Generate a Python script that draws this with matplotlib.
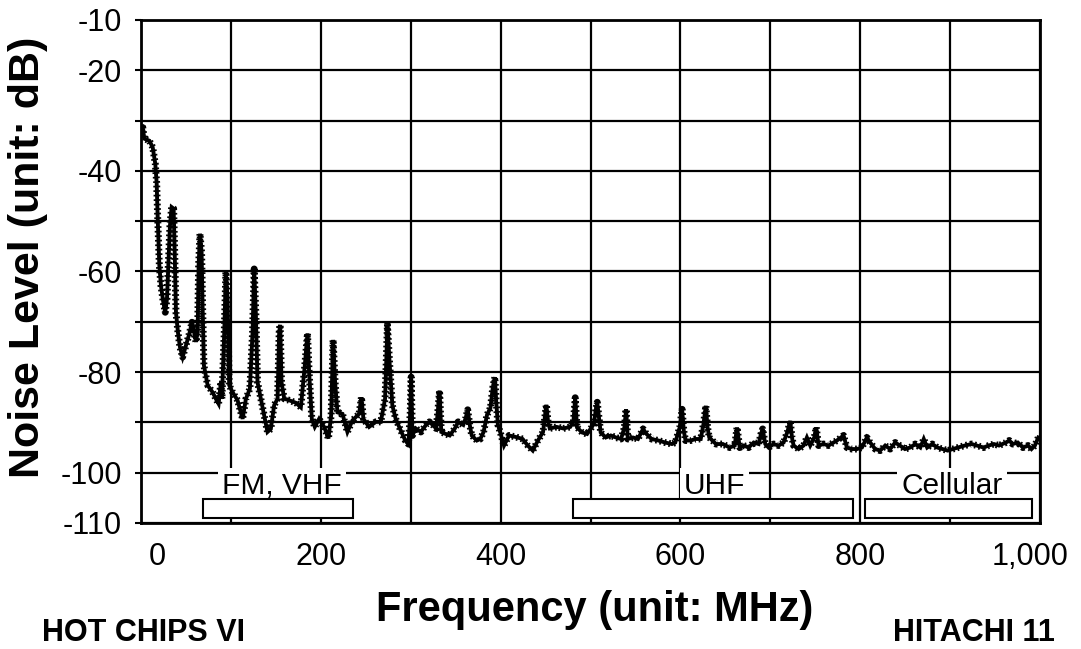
import numpy as np
import matplotlib.pyplot as plt
from matplotlib.patches import Rectangle
from matplotlib.transforms import ScaledTranslation

plt.rcParams['font.family'] = ['Liberation Sans', 'DejaVu Sans']

# noise spectrum (MHz, dB)
freq_mhz = [
    0.5, 1.5, 3.7, 9.3, 13, 15.9, 17.4, 18.5, 20.4, 22.2, 24.8, 27, 28.9, 30.7,
    32.2, 34.1, 36.3, 37.4, 38.9, 41.1, 43.3, 46.3, 50, 53.7, 56.7, 58.5, 61.1,
    63, 64.1, 65.6, 67.4, 68.5, 70, 74.1, 79.6, 84.1, 86.3, 88.9, 90, 92.6,
    94.4, 96.3, 98.1, 101.9, 107.4, 113, 116.7, 121.1, 124.1, 125.9, 127.8,
    129.6, 133.3, 137, 140.7, 144.4, 148.1, 151.9, 153.7, 154.8, 156.3, 159.3,
    164.8, 172.2, 177.8, 182.2, 185.2, 187, 190, 193.3, 198.1, 203.7, 208.5,
    211.5, 213.7, 215.9, 218.5, 224.1, 229.6, 235.2, 242.6, 245.2, 247.4,
    253.7, 261.1, 266.7, 271.5, 274.1, 276.7, 279.6, 283.3, 288.9, 294,
    297.5, 299.5, 300.5, 301.9, 305.7, 311.3, 317, 320.8, 324.5, 328.3,
    330.2, 332.1, 334, 337.7, 343.4, 349.1, 352.8, 358.5, 361.1, 363.4, 365.7,
    367.9, 373.6, 377.4, 381.1, 384.9, 388.7, 391.3, 393.6, 395.1, 397, 400,
    403.8, 409.4, 417, 424.5, 430.2, 435.8, 441.5, 447.2, 449.1, 450.9, 452.8,
    454.7, 462.3, 469.8, 477.4, 481, 483, 485, 490.6, 496.2, 500, 503.8,
    505.7, 507.5, 509.4, 511.3, 517, 522.6, 528.3, 534, 537.7, 539.6, 541.5,
    547.2, 552.8, 558.5, 562.3, 567.9, 575.5, 583, 590.6, 594.3, 599.2, 601.9,
    603.8, 605.7, 611.3, 617, 622.6, 625.7, 628.3, 630.2, 632.1, 639.6, 647.2,
    654.7, 660.4, 663, 666, 670.4, 675.9, 681.5, 687, 689.6, 691.5, 694.4,
    698.1, 703.7, 709.3, 714.8, 719.3, 722.2, 724.1, 725.9, 731.5, 737, 740.7,
    744.4, 748.9, 751.1, 753.7, 759.3, 764.8, 770.4, 774.1, 781.5, 785.2,
    790.7, 796.3, 801.9, 807.4, 811.1, 816.7, 822.2, 827.8, 833.3, 838.9,
    844.1, 849.8, 855.5, 861.2, 866.9, 870.7, 874.5, 880.2, 885.9, 891.6,
    897.3, 903, 908.7, 916.3, 924, 929.7, 937.3, 943, 948.7, 954.4, 962,
    965.8, 969.6, 975.3, 981, 986.7, 990.5, 994.3, 998.1,
]
level_db = [
    -33.0, -30.8, -33.6, -34.0, -35.3, -38.6, -42.3, -48.9, -58.8, -62.8, -66.1,
    -68.1, -65.4, -57.5, -50.9, -47.2, -47.5, -55.5, -68.1, -72.1, -75.0, -77.0,
    -74.7, -72.4, -70.1, -71.4, -74.0, -72.1, -58.8, -52.5, -56.2, -66.8, -78.7,
    -82.6, -84.0, -85.6, -86.3, -82.0, -85.3, -72.1, -60.1, -65.4, -82.6, -84.0,
    -85.6, -89.3, -85.3, -83.3, -72.1, -59.5, -68.7, -82.0, -85.3, -88.6, -91.9,
    -91.3, -86.6, -85.3, -72.1, -70.6, -82.0, -85.3, -85.6, -86.1, -87.0, -78.7,
    -72.3, -80.0, -89.3, -90.9, -89.3, -90.9, -93.2, -88.6, -73.6, -82.0, -88.0,
    -88.3, -91.9, -89.6, -88.3, -85.0, -89.3, -90.9, -89.9, -89.9, -85.3, -70.6,
    -78.7, -86.6, -89.3, -91.6, -93.6, -94.3, -88.0, -81.0, -92.6, -91.2, -91.9,
    -90.5, -89.9, -90.5, -91.2, -87.8, -83.7, -91.9, -92.2, -92.6, -91.2, -89.9,
    -90.5, -89.2, -87.5, -90.5, -92.6, -93.6, -93.3, -91.9, -88.5, -87.1, -83.1,
    -81.0, -85.8, -90.5, -92.2, -94.6, -92.6, -92.9, -93.3, -94.6, -95.6, -93.6,
    -91.9, -89.2, -86.5, -89.9, -91.2, -90.9, -91.2, -90.9, -89.9, -85.1, -91.0,
    -92.0, -92.3, -91.3, -90.3, -87.7, -86.0, -89.0, -92.0, -93.0, -92.6, -93.0,
    -93.3, -91.0, -87.4, -93.3, -93.0, -93.3, -91.3, -92.3, -93.3, -93.6, -94.0,
    -94.3, -94.0, -91.0, -87.4, -91.7, -93.6, -93.6, -93.3, -93.3, -90.3, -86.7,
    -91.0, -93.0, -94.3, -94.3, -95.0, -94.6, -91.0, -95.0, -94.6, -95.0, -94.0,
    -94.3, -92.3, -91.3, -94.3, -95.0, -94.3, -94.6, -94.0, -91.7, -89.7, -93.0,
    -94.6, -95.3, -94.6, -93.0, -94.6, -93.0, -91.0, -94.6, -94.3, -94.6, -94.0,
    -93.6, -92.6, -95.0, -95.3, -95.3, -95.0, -93.0, -94.0, -95.3, -95.6, -94.6,
    -95.3, -94.0, -94.6, -95.3, -95.0, -94.3, -95.0, -93.3, -95.0, -94.3, -95.0,
    -95.3, -95.6, -95.3, -95.0, -94.6, -94.3, -94.6, -95.0, -94.6, -94.3, -94.6,
    -94.0, -93.6, -94.3, -94.0, -95.0, -94.6, -95.3, -94.6, -93.0,
]

# frequency bands: name, start, end (MHz), label centre (MHz)
band_names = ['FM, VHF', 'UHF', 'Cellular']
band_start = [69, 480, 805]
band_end = [236, 792, 991]
band_label_x = [157, 638, 902]

y_ticks = list(range(-110, 0, 10))
y_labelled = [-10, -20, -40, -60, -80, -100, -110]
x_ticks = list(range(0, 1001, 100))
x_labelled = {0: '0', 200: '200', 400: '400', 600: '600', 800: '800', 1000: '1,000'}

W, H = 1081, 649
fig = plt.figure(figsize=(W / 100, H / 100), dpi=100)
ax = fig.add_axes([141 / W, 1 - 523 / H, (1040 - 141) / W, (523 - 20) / H])

ax.set_xlim(0, 1000)
ax.set_ylim(-110, -10)

# the scanned trace: thick line plus short bars along it
ax.plot(freq_mhz, level_db, color='black', lw=2.8, zorder=3, solid_joinstyle='miter')
ax.plot(freq_mhz, level_db, color='black', lw=5.0, linestyle=(0, (0.25, 0.4)),
        dash_capstyle='butt', zorder=3)

# bands: white label boxes break the -100 grid line, outlined bars sit on top
for name, x0, x1, xl in zip(band_names, band_start, band_end, band_label_x):
    ax.text(xl, -104.3, name, ha='center', va='baseline', fontsize=21.5, zorder=5,
            bbox=dict(facecolor='white', edgecolor='none', pad=3))
    ax.add_patch(Rectangle((x0, -109.0), x1 - x0, 3.8, facecolor='white',
                           edgecolor='black', lw=1.5, zorder=6))

# grid and ticks
ax.set_yticks(y_ticks)
ax.set_yticklabels([str(v) if v in y_labelled else '' for v in y_ticks])
ax.set_xticks(x_ticks)
ax.set_xticklabels([x_labelled.get(v, '') for v in x_ticks])
ax.grid(True, which='major', color='black', lw=1.6)
ax.set_axisbelow(True)
ax.tick_params(axis='y', which='major', direction='out', length=4, width=1.5,
               labelsize=22, pad=9.5)
ax.tick_params(axis='x', which='both', length=0, labelsize=22, pad=14)
for sp in ax.spines.values():
    sp.set_linewidth(2.0)
    sp.set_zorder(7)

fig.canvas.draw()
# nudge the end labels inward like the original
xlabels = ax.get_xticklabels()
xlabels[0].set_transform(xlabels[0].get_transform() + ScaledTranslation(16 / 100, 0, fig.dpi_scale_trans))
xlabels[-1].set_transform(xlabels[-1].get_transform() + ScaledTranslation(-10 / 100, 0, fig.dpi_scale_trans))

fig.text(28 / W, 1 - 257 / H, 'Noise Level (unit: dB)', rotation=90,
         ha='center', va='center', fontsize=31, fontweight='bold')
fig.text(595 / W, 1 - 621 / H, 'Frequency (unit: MHz)', ha='center',
         va='baseline', fontsize=30, fontweight='bold')
fig.text(42 / W, 1 - 641 / H, 'HOT CHIPS VI', ha='left', va='baseline',
         fontsize=22, fontweight='bold')
fig.text(1055 / W, 1 - 641 / H, 'HITACHI 11', ha='right', va='baseline',
         fontsize=22, fontweight='bold')

fig.savefig('out.png', dpi=100)
